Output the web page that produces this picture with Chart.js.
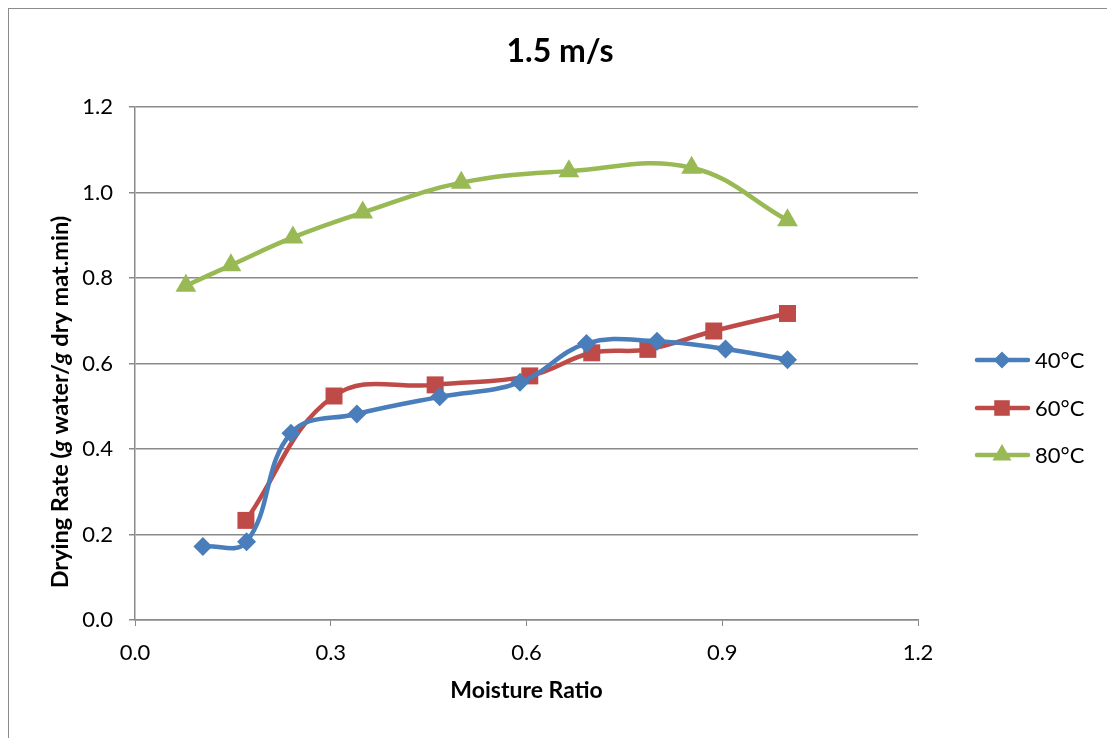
<!DOCTYPE html>
<html>
<head>
<meta charset="utf-8">
<script src="https://cdn.jsdelivr.net/npm/chart.js@4/dist/chart.umd.min.js"></script>
<style>
  html, body { margin: 0; padding: 0; background: #fff; }
  .frame { position: absolute; left: 8px; top: 8px; width: 1110px; height: 740px; border: 1px solid #8c8c8c; }
  canvas { position: absolute; left: 0; top: 0; }
</style>
</head>
<body>
<div class="frame"></div>
<canvas id="myChart" width="1107" height="738"></canvas>
<script>
const chartTitle = "1.5 m/s";
const xAxisTitle = "Moisture Ratio";
const seriesNames = ["40°C", "60°C", "80°C"];
const seriesColors = ["#4a7ebb", "#be4b48", "#98b954"];
const seriesMarkers = ["rectRot", "rect", "triangle"];

const moisture40 = [0.104, 0.171, 0.239, 0.340, 0.467, 0.590, 0.692, 0.800, 0.905, 1.000];
const rate40 = [0.172, 0.183, 0.437, 0.482, 0.522, 0.556, 0.647, 0.652, 0.634, 0.609];

const moisture60 = [0.170, 0.305, 0.460, 0.605, 0.700, 0.786, 0.887, 1.000];
const rate60 = [0.233, 0.524, 0.550, 0.571, 0.625, 0.633, 0.676, 0.717];

const moisture80 = [0.078, 0.147, 0.242, 0.349, 0.500, 0.665, 0.853, 1.000];
const rate80 = [0.782, 0.830, 0.895, 0.953, 1.023, 1.050, 1.058, 0.935];

const xTicks = [0.0, 0.3, 0.6, 0.9, 1.2];
const yTicks = [0.0, 0.2, 0.4, 0.6, 0.8, 1.0, 1.2];

const fontFamily = "Lato, 'Open Sans', sans-serif";
const gridColor = "#8a8a8a";

const toPoints = (xs, ys) => xs.map((x, i) => ({ x: x, y: ys[i] }));
const allX = [moisture40, moisture60, moisture80];
const allY = [rate40, rate60, rate80];

const markerRadius = [9.5, 12, 12];

const datasets = seriesNames.map((name, i) => ({
    label: name,
    data: toPoints(allX[i], allY[i]),
    borderColor: seriesColors[i],
    backgroundColor: seriesColors[i],
    borderWidth: 4.5,
    pointStyle: seriesMarkers[i],
    pointRadius: markerRadius[i],
    pointBorderWidth: 0,
    pointBackgroundColor: seriesColors[i],
    tension: 0.4,
    fill: false
}));

// title, y axis title (with italic g) and legend are drawn here
const extrasPlugin = {
    id: "extras",
    afterDraw(chart) {
        const ctx = chart.ctx;
        const area = chart.chartArea;
        ctx.save();

        ctx.fillStyle = "#000";
        ctx.textAlign = "center";
        ctx.textBaseline = "middle";
        ctx.font = "bold 32px " + fontFamily;
        ctx.fillText(chartTitle, 560, 52);

        ctx.font = "bold 23px " + fontFamily;
        ctx.fillText(xAxisTitle, (area.left + area.right) / 2, 691);

        // y title, mixed styles
        const parts = [
            ["Drying Rate (", "bold "],
            ["g", "italic bold "],
            [" water/", "bold "],
            ["g", "italic bold "],
            [" dry mat.min)", "bold "]
        ];
        let total = 0;
        parts.forEach(p => {
            ctx.font = p[1] + "23.5px " + fontFamily;
            total += ctx.measureText(p[0]).width;
        });
        ctx.translate(60, 402);
        ctx.rotate(-Math.PI / 2);
        ctx.textAlign = "left";
        let pos = -total / 2;
        parts.forEach(p => {
            ctx.font = p[1] + "23.5px " + fontFamily;
            ctx.fillText(p[0], pos, 0);
            pos += ctx.measureText(p[0]).width;
        });
        ctx.setTransform(1, 0, 0, 1, 0, 0);

        // legend
        const legendY = [360, 408, 455];
        seriesNames.forEach((name, i) => {
            const y = legendY[i];
            ctx.strokeStyle = seriesColors[i];
            ctx.fillStyle = seriesColors[i];
            ctx.lineWidth = 4.5;
            ctx.lineCap = "round";
            ctx.beginPath();
            ctx.moveTo(977, y);
            ctx.lineTo(1028, y);
            ctx.stroke();
            Chart.helpers.drawPoint(ctx, {
                pointStyle: seriesMarkers[i],
                radius: markerRadius[i] - 1,
                rotation: 0,
                borderWidth: 0
            }, 1002, y);
            ctx.fillStyle = "#000";
            ctx.font = "22px " + fontFamily;
            ctx.textAlign = "left";
            ctx.textBaseline = "middle";
            ctx.fillText(name, 1035, y + 1);
        });
        ctx.restore();
    }
};

const ctx = document.getElementById("myChart").getContext("2d");
const myChart = new Chart(ctx, {
    type: "line",
    data: { datasets: datasets },
    options: {
        responsive: false,
        animation: false,
        layout: { padding: { top: 107, right: 189, bottom: 0, left: 0 } },
        plugins: {
            legend: { display: false },
            title: { display: false },
            tooltip: { enabled: false }
        },
        scales: {
            x: {
                type: "linear",
                min: xTicks[0],
                max: xTicks[xTicks.length - 1],
                afterFit: (scale) => { scale.height = 118; },
                afterBuildTicks: (scale) => { scale.ticks = xTicks.map(v => ({ value: v })); },
                ticks: {
                    color: "#000",
                    padding: 14,
                    font: { family: fontFamily, size: 22 },
                    callback: (v) => v.toFixed(1)
                },
                grid: { drawOnChartArea: false, drawTicks: true, tickLength: 6, color: gridColor },
                border: { display: true, color: gridColor, width: 1.5 }
            },
            y: {
                type: "linear",
                min: yTicks[0],
                max: yTicks[yTicks.length - 1],
                afterFit: (scale) => { scale.width = 135; },
                afterBuildTicks: (scale) => { scale.ticks = yTicks.map(v => ({ value: v })); },
                ticks: {
                    color: "#000",
                    padding: 16,
                    font: { family: fontFamily, size: 22 },
                    callback: (v) => v.toFixed(1)
                },
                grid: { color: gridColor, lineWidth: 1.5, tickLength: 6 },
                border: { display: true, color: gridColor, width: 1.5 }
            }
        }
    },
    plugins: [extrasPlugin]
});
</script>
</body>
</html>
